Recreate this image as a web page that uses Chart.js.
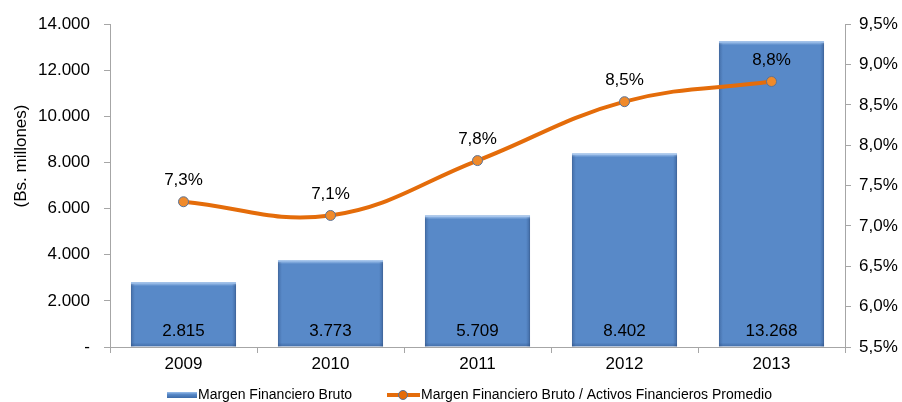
<!DOCTYPE html>
<html>
<head>
<meta charset="utf-8">
<script src="https://cdn.jsdelivr.net/npm/chart.js@4.4.1/dist/chart.umd.min.js"></script>
<style>
  html, body { margin: 0; padding: 0; background: #fff; }
</style>
</head>
<body>
<canvas id="chart" width="902" height="402"></canvas>
<script>
// Data
const years = ["2009", "2010", "2011", "2012", "2013"];
const margenBruto = [2815, 3773, 5709, 8402, 13268];
const margenRatio = [7.30, 7.13, 7.81, 8.54, 8.79];
const ratioLabels = ["7,3%", "7,1%", "7,8%", "8,5%", "8,8%"];
const leftTicks = [0, 2000, 4000, 6000, 8000, 10000, 12000, 14000];
const rightTicks = [5.5, 6.0, 6.5, 7.0, 7.5, 8.0, 8.5, 9.0, 9.5];

const barName = "Margen Financiero Bruto";
const lineName = "Margen Financiero Bruto / Activos Financieros Promedio";
const yTitle = "(Bs. millones)";

const FONT = "'Liberation Sans', Arial, sans-serif";
const BLUE = "#5889c8";
const ORANGE = "#e46c0a";

function fmtThousands(v) {
    if (v === 0) return "-";
    return v.toLocaleString("de-DE");
}

// bevel look on the bars
const barBevel = {
    id: "barBevel",
    afterDatasetDraw(chart, args) {
        if (args.index !== 0) return;
        const ctx = chart.ctx;
        ctx.save();
        chart.getDatasetMeta(0).data.forEach(bar => {
            const l = bar.x - bar.width / 2;
            const r = bar.x + bar.width / 2;
            const t = bar.y;
            const b = bar.base;
            const e = 4;

            let g = ctx.createLinearGradient(0, t, 0, t + e);
            g.addColorStop(0, "rgba(200,225,255,0.85)");
            g.addColorStop(1, "rgba(200,225,255,0)");
            ctx.fillStyle = g;
            ctx.fillRect(l, t, r - l, e);

            g = ctx.createLinearGradient(l, 0, l + e, 0);
            g.addColorStop(0, "rgba(30,60,110,0.35)");
            g.addColorStop(1, "rgba(30,60,110,0)");
            ctx.fillStyle = g;
            ctx.fillRect(l, t + 2, e, b - t - 2);

            g = ctx.createLinearGradient(r, 0, r - e, 0);
            g.addColorStop(0, "rgba(30,60,110,0.4)");
            g.addColorStop(1, "rgba(30,60,110,0)");
            ctx.fillStyle = g;
            ctx.fillRect(r - e, t + 2, e, b - t - 2);

            g = ctx.createLinearGradient(0, b, 0, b - e);
            g.addColorStop(0, "rgba(30,60,110,0.35)");
            g.addColorStop(1, "rgba(30,60,110,0)");
            ctx.fillStyle = g;
            ctx.fillRect(l, b - e, r - l, e);
        });
        ctx.restore();
    }
};

// Labels on bars and points, plus the left axis title
const valueLabels = {
    id: "valueLabels",
    afterDatasetsDraw(chart) {
        const ctx = chart.ctx;
        ctx.save();
        ctx.fillStyle = "#000";
        ctx.textAlign = "center";
        ctx.textBaseline = "middle";
        ctx.font = "17px " + FONT;
        chart.getDatasetMeta(0).data.forEach((bar, i) => {
            ctx.fillText(fmtThousands(margenBruto[i]), bar.x, chart.chartArea.bottom - 16);
        });
        chart.getDatasetMeta(1).data.forEach((pt, i) => {
            ctx.fillText(ratioLabels[i], pt.x, pt.y - 21);
        });

        ctx.translate(21, 156);
        ctx.rotate(-Math.PI / 2);
        ctx.fillText(yTitle, 0, 0);
        ctx.restore();
    }
};

// Bottom legend
const bottomLegend = {
    id: "bottomLegend",
    afterDraw(chart) {
        const ctx = chart.ctx;
        const y = 395;
        ctx.save();
        ctx.font = "14px " + FONT;
        ctx.textBaseline = "middle";
        ctx.textAlign = "left";

        // bar symbol
        const grad = ctx.createLinearGradient(0, y - 3, 0, y + 3);
        grad.addColorStop(0, "#9cc0ec");
        grad.addColorStop(0.4, BLUE);
        grad.addColorStop(1, "#3b6aa8");
        ctx.fillStyle = grad;
        ctx.fillRect(167, y - 3, 30, 6);
        ctx.fillStyle = "#000";
        ctx.fillText(barName, 198, y);

        // line symbol
        ctx.strokeStyle = ORANGE;
        ctx.lineWidth = 4;
        ctx.beginPath();
        ctx.moveTo(387, y);
        ctx.lineTo(420, y);
        ctx.stroke();
        ctx.beginPath();
        ctx.arc(403, y, 4.5, 0, Math.PI * 2);
        ctx.fillStyle = ORANGE;
        ctx.fill();
        ctx.lineWidth = 1;
        ctx.strokeStyle = "#5a7398";
        ctx.stroke();
        ctx.fillStyle = "#000";
        ctx.fillText(lineName, 421, y);
        ctx.restore();
    }
};

const ctx = document.getElementById("chart").getContext("2d");

const chart = new Chart(ctx, {
    type: "bar",
    data: {
        labels: years,
        datasets: [{
            type: "bar",
            label: barName,
            data: margenBruto,
            yAxisID: "y",
            backgroundColor: BLUE,
            borderColor: "#4a78b4",
            borderWidth: 1,
            barPercentage: 0.715,
            categoryPercentage: 1,
            order: 2
        }, {
            type: "line",
            label: lineName,
            data: margenRatio,
            yAxisID: "y1",
            borderColor: ORANGE,
            borderWidth: 4,
            tension: 0.4,
            pointRadius: 5,
            pointBackgroundColor: "#f08a2a",
            pointBorderColor: "#5a7398",
            pointBorderWidth: 1,
            order: 1
        }]
    },
    options: {
        responsive: false,
        animation: false,
        layout: { autoPadding: false, padding: { top: 20, bottom: 0, left: 0, right: 0 } },
        plugins: {
            legend: { display: false },
            tooltip: { enabled: false }
        },
        scales: {
            x: {
                grid: {
                    display: true,
                    drawOnChartArea: false,
                    offset: true,
                    color: "#a6a6a6",
                    tickLength: 6
                },
                border: { color: "#a6a6a6" },
                ticks: {
                    color: "#000",
                    font: { family: FONT, size: 17 },
                    padding: 1
                },
                afterFit(scale) { scale.height = 55; }
            },
            y: {
                position: "left",
                min: 0,
                max: 14000,
                afterBuildTicks(scale) {
                    scale.ticks = leftTicks.map(v => ({ value: v }));
                },
                grid: {
                    drawOnChartArea: false,
                    color: "#a6a6a6",
                    tickLength: 6
                },
                border: { color: "#a6a6a6" },
                ticks: {
                    color: "#000",
                    font: { family: FONT, size: 17 },
                    padding: 14,
                    callback: v => fmtThousands(v)
                },
                afterFit(scale) { scale.width = 110; }
            },
            y1: {
                position: "right",
                min: 5.5,
                max: 9.5,
                afterBuildTicks(scale) {
                    scale.ticks = rightTicks.map(v => ({ value: v }));
                },
                grid: {
                    drawOnChartArea: false,
                    color: "#a6a6a6",
                    tickLength: 6
                },
                border: { color: "#a6a6a6" },
                ticks: {
                    color: "#000",
                    font: { family: FONT, size: 17 },
                    padding: 8,
                    callback: v => v.toFixed(1).replace(".", ",") + "%"
                },
                afterFit(scale) { scale.width = 57; }
            }
        }
    },
    plugins: [barBevel, valueLabels, bottomLegend]
});
</script>
</body>
</html>
